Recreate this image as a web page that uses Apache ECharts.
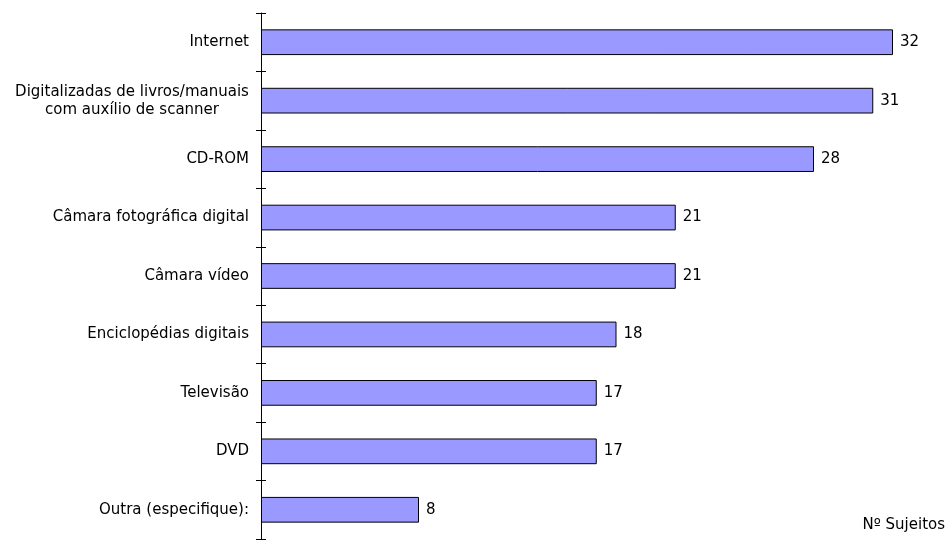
<!DOCTYPE html>
<html>
<head>
<meta charset="utf-8">
<script src="https://cdn.jsdelivr.net/npm/echarts@6/dist/echarts.min.js"></script>
<style>
  html, body { margin: 0; padding: 0; background: #fff; }
  #chart { width: 948px; height: 540px; }
</style>
</head>
<body>
<div id="chart"></div>
<script>
// Sources of the digital images, top to bottom
const categories = [
  'Internet',
  'Digitalizadas de livros/manuais\ncom auxílio de scanner',
  'CD-ROM',
  'Câmara fotográfica digital',
  'Câmara vídeo',
  'Enciclopédias digitais',
  'Televisão',
  'DVD',
  'Outra (especifique):'
];
const subjects = [32, 31, 28, 21, 21, 18, 17, 17, 8];
const axisTitle = 'Nº Sujeitos';

const chart = echarts.init(document.getElementById('chart'));
const font = '"DejaVu Sans", Verdana, sans-serif';
const fs = 15;

chart.setOption({
  animation: false,
  grid: { left: 261, right: 55, top: 13, bottom: 1, containLabel: false },
  xAxis: {
    type: 'value',
    min: 0,
    max: 32,
    show: false
  },
  yAxis: [
    {
      type: 'category',
      data: categories,
      inverse: true,
      position: 'left',
      axisLine: { show: true, lineStyle: { color: '#000', width: 1 } },
      axisTick: { show: false },
      splitLine: { show: false },
      axisLabel: {
        margin: 12,
        color: '#000',
        fontFamily: font,
        fontSize: fs,
        lineHeight: 18,
        formatter: function (v) {
          if (v.indexOf('\n') >= 0) {
            return v.split('\n').map(s => '{c|' + s + '}').join('\n');
          }
          return v;
        },
        rich: {
          c: { width: 234, align: 'center', fontFamily: font, fontSize: fs, lineHeight: 18, color: '#000' }
        }
      }
    },
    {
      // tick marks that cross the axis line
      type: 'category',
      data: categories,
      inverse: true,
      position: 'left',
      offset: -5,
      axisLine: { show: false },
      axisTick: { show: true, length: 10, lineStyle: { color: '#000' } },
      axisLabel: { show: false },
      splitLine: { show: false }
    }
  ],
  series: [{
    type: 'bar',
    data: subjects,
    barCategoryGap: '56%',
    itemStyle: { color: '#9999FF', borderColor: '#000', borderWidth: 1 },
    label: {
      show: true,
      position: 'right',
      distance: 7,
      color: '#000',
      fontFamily: font,
      fontSize: fs
    }
  }],
  graphic: [{
    type: 'text',
    right: 3,
    top: 518,
    style: { text: axisTitle, fill: '#000', font: fs + 'px ' + font }
  }]
});
</script>
</body>
</html>
